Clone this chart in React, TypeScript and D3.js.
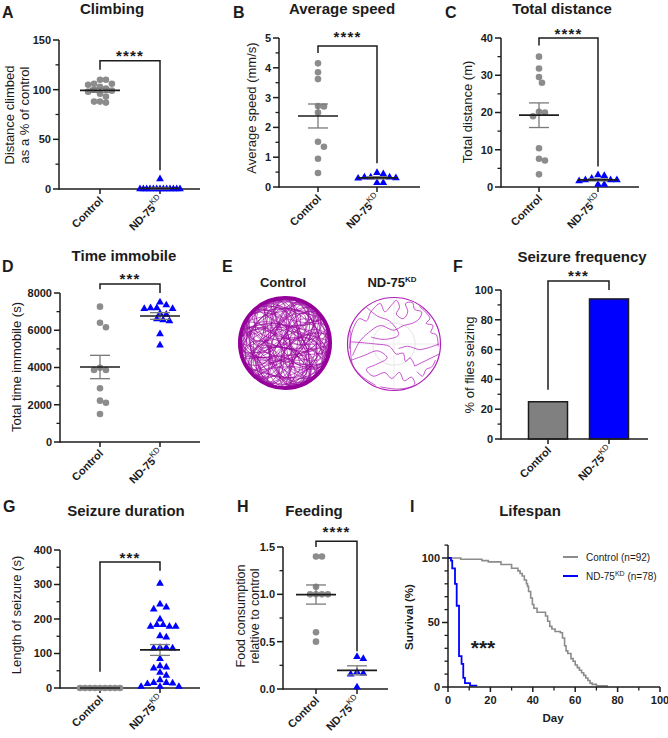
import React from "react";
import * as d3 from "d3";

const FONT = "'Liberation Sans', Arial, Helvetica, sans-serif";
const INK = "#1c1c1c";
const DOT = "#8c8c8c";
const BLUE = "#0000ff";
const SEMC = "#7a7a7a";

const catNames = ["Control", "ND-75"];
const catSup = ["", "KD"];

// A – climbing
const climbControl = [106, 106, 110, 110, 105, 103, 100, 99, 101, 98, 96, 93, 87, 88, 88];
const climbND = [0, 0, 0, 0, 0, 0, 0, 0, 0, 0, 0, 0, 0, 10];
const climbTicks = [0, 50, 100, 150];
const climbBracket = [129, 120, 19];

// B – average speed
const speedControl = [4.15, 3.85, 3.62, 2.72, 2.7, 2.5, 1.52, 1.35, 0.95, 0.47];
const speedND = [0.29, 0.14, 0.48, 0.33, 0.33, 0.14, 0.44, 0.33, 0.3];
const speedTicks = [0, 1, 2, 3, 4, 5];
const speedBracket = [4.73, 4.5, 0.8];

// C – total distance
const distControl = [35, 31.8, 29.5, 28, 20.2, 20, 19, 10.4, 7.6, 7.1, 3.4];
const distND = [3.2, 1.9, 3.0, 1.6, 1.9, 0.7, 1.9, 2.3, 0.7];
const distTicks = [0, 10, 20, 30, 40];
const distBracket = [40, 38, 5.5];

// D – time immobile
const immobControl = [7266, 6158, 6406, 3866, 3866, 3990, 2883, 2111, 2219, 1503];
const immobND = [7500, 7150, 7200, 7350, 7200, 7150, 6900, 6850, 6600, 6500, 6550, 5800, 5200];
const immobTicks = [0, 2000, 4000, 6000, 8000];
const immobBracket = [8480, 8200, 8000];

// F – seizure frequency
const seizureFreq = [25, 94];
const freqTicks = [0, 20, 40, 60, 80, 100];
const freqBracket = [106, 33, 100];

// G – seizure duration
const durControl = [0, 0, 0, 0, 0, 0, 0, 0, 0];
const durND = [303, 243, 234, 228, 199, 183, 183, 178, 178, 178, 147, 151, 115, 117, 117, 115, 85, 60, 64, 57, 36, 45, 15, 12, 14, 15, 23, 4, 4, 4];
const durTicks = [0, 100, 200, 300, 400];
const durBracket = [365, 47, 340];

// H – feeding
const feedControl = [1.4, 1.4, 1.08, 1.0, 1.0, 1.0, 1.0, 0.6, 0.5];
const feedND = [0.34, 0.32, 0.18, 0.155, 0.165, 0.02];
const feedTicks = [0, 0.5, 1.0, 1.5];
const feedBracket = [1.56, 1.5, 0.4];

// I – lifespan (day, survival %)
const lifeControl: [number, number][] = [
  [0, 100], [6, 99], [16, 98], [19, 97], [25, 95], [30, 92], [33, 90], [34, 88], [35, 86], [36, 83],
  [37, 80], [37.5, 78], [38, 74], [39, 69], [39.8, 64], [40.5, 61], [42, 58], [46, 55], [47, 51],
  [48, 47], [49, 45], [50.5, 43], [53, 42], [54, 38], [55, 32], [55.7, 28], [56.5, 26], [58, 22],
  [59, 20], [60, 17], [61, 15], [62, 13], [63, 11], [64, 9], [65, 7], [66, 5], [67, 3], [68, 2],
  [70, 1], [75, 0],
];
const lifeND: [number, number][] = [
  [0, 100], [1.4, 98], [2, 92], [3.3, 80], [4.1, 63], [5.2, 24], [6.4, 18], [7.2, 7], [8, 3], [10.4, 1], [13.8, 1],
];
const lifeXTicks = [0, 20, 40, 60, 80, 100];
const lifeYTicks = [0, 50, 100];
const lifeLegend = ["Control (n=92)", "(n=78)"];

// E – tracking trajectories (unit-circle coordinates)
const controlTrack: [number, number][] = [
  [-0.96, 0.15], [-0.5, 0.4], [0.05, 0.1], [0.6, -0.3], [0.97, -0.15], [0.8, 0.5], [0.35, 0.92], [-0.2, 0.7],
  [-0.35, 0.2], [-0.1, -0.4], [0.25, -0.95], [-0.45, -0.88], [-0.85, -0.45], [-0.6, 0.05], [-0.15, 0.35],
  [0.4, 0.6], [0.92, 0.35], [0.7, -0.1], [0.2, -0.25], [-0.3, -0.65], [-0.75, -0.62], [-0.98, -0.05],
  [-0.75, 0.62], [-0.25, 0.96], [0.15, 0.55], [0.1, 0.0], [0.3, -0.55], [0.65, -0.75], [0.95, -0.3],
  [0.55, 0.15], [0.0, 0.45], [-0.55, 0.8], [-0.9, 0.4], [-0.4, -0.1], [0.15, -0.75], [0.05, -0.99],
  [-0.3, -0.85], [-0.05, -0.1], [0.45, 0.35], [0.7, 0.7], [0.2, 0.97], [-0.4, 0.6], [-0.7, 0.2],
  [-0.95, -0.3], [-0.55, -0.75], [0.0, -0.55], [0.5, -0.45], [0.88, -0.5], [0.98, 0.1], [0.6, 0.5],
  [0.0, 0.8], [-0.6, 0.45], [-0.2, -0.2], [0.35, 0.05], [0.8, -0.2], [0.5, -0.85],
];
const controlTurns = [0, 41, 97, 163, 212, 277];
const controlMirrorTurns = [23, 139, 250];
const ndTracks: [number, number][][] = [
  [[-0.97, 0.1], [-0.9, -0.3], [-0.75, -0.55], [-0.6, -0.5], [-0.5, -0.7], [-0.3, -0.88], [-0.2, -0.7],
   [-0.05, -0.85], [0.05, -0.95], [0.12, -0.8], [0.05, -0.65], [0.2, -0.55], [0.3, -0.7], [0.25, -0.88],
   [0.4, -0.9], [0.45, -0.75], [0.6, -0.7], [0.55, -0.55], [0.4, -0.45], [0.2, -0.4], [0.0, -0.3],
   [-0.3, -0.4], [-0.55, -0.25], [-0.75, -0.05], [-0.9, 0.25]],
  [[0.55, -0.82], [0.7, -0.68], [0.78, -0.55], [0.7, -0.45], [0.85, -0.4], [0.8, -0.25], [0.92, -0.2], [0.96, 0.05]],
  [[-0.92, 0.35], [-0.65, 0.25], [-0.35, 0.15], [-0.15, 0.3], [-0.4, 0.45], [-0.6, 0.55], [-0.45, 0.7],
   [-0.2, 0.62], [-0.05, 0.75], [0.12, 0.62], [0.22, 0.8], [0.38, 0.72], [0.45, 0.88], [0.3, 0.95],
   [0.05, 0.98], [-0.3, 0.93]],
  [[0.45, 0.48], [0.35, 0.3], [0.25, 0.38], [0.2, 0.2], [0.05, 0.22], [-0.1, 0.05], [-0.4, 0.0], [-0.96, -0.05]],
  [[-0.95, -0.3], [-0.9, 0.45], [-0.7, 0.7], [-0.4, 0.9]],
  [[0.1, 0.1], [0.3, 0.05], [0.55, 0.12], [0.75, 0.08], [0.98, 0.0]],
  [[0.5, 0.6], [0.62, 0.7], [0.7, 0.55], [0.82, 0.5], [0.9, 0.35]],
  [[-0.6, -0.8], [-0.35, -0.6], [-0.1, -0.5], [0.1, -0.2], [-0.2, -0.1], [-0.5, -0.15]],
];
const ndStraight: [number, number][] = [[0.98, 0.22], [0.45, 0.48]];

function swarm(values: number[], y: (v: number) => number, cx: number, r: number, maxHalf: number) {
  const idx = values.map((_, i) => i).sort((a, b) => values[b] - values[a]);
  const placed: { x: number; y: number }[] = new Array(values.length);
  const list: { x: number; y: number }[] = [];
  const step = r * 0.9;
  const minD2 = (2 * r) * (2 * r) * 0.8;
  for (const i of idx) {
    const py = y(values[i]);
    for (let t = 0; t < 400; t++) {
      const off = t === 0 ? 0 : (t % 2 === 1 ? 1 : -1) * Math.ceil(t / 2) * step;
      if (list.every((p) => (p.x - off) ** 2 + (p.y - py) ** 2 >= minD2)) {
        placed[i] = { x: off, y: py };
        list.push(placed[i]);
        break;
      }
    }
  }
  const maxOff = d3.max(list, (p) => Math.abs(p.x)) || 0;
  const k = maxOff > maxHalf ? maxHalf / maxOff : 1;
  return placed.map((p) => ({ x: cx + p.x * k, y: p.y }));
}

function YAxis({ x, y, ticks, minorStep, dec, top }: any) {
  const d0 = y.domain()[0];
  const d1 = top ?? y.domain()[1];
  const minor = d3.range(d0, d1 + 1e-9, minorStep).filter((v: number) => !ticks.some((t: number) => Math.abs(t - v) < 1e-9));
  const f = d3.format(dec ? ".1f" : "d");
  return (
    <g>
      <line x1={x} x2={x} y1={y(d0) + 0.75} y2={y(d1)} stroke={INK} strokeWidth={1.5} />
      {minor.map((v: number) => (
        <line key={"m" + v} x1={x - 3.5} x2={x} y1={y(v)} y2={y(v)} stroke={INK} strokeWidth={1.3} />
      ))}
      {ticks.map((v: number) => (
        <g key={v}>
          <line x1={x - 6} x2={x} y1={y(v)} y2={y(v)} stroke={INK} strokeWidth={1.5} />
          <text x={x - 8} y={y(v)} dy="0.36em" textAnchor="end" fontSize={11} fontWeight="bold" fill={INK}>
            {f(v)}
          </text>
        </g>
      ))}
    </g>
  );
}

function CatAxis({ xs, y0, x0, x1 }: any) {
  return (
    <g>
      <line x1={x0} x2={x1} y1={y0} y2={y0} stroke={INK} strokeWidth={1.5} />
      {catNames.map((c, i) => {
        const cx = xs(c);
        return (
          <g key={c}>
            <line x1={cx} x2={cx} y1={y0} y2={y0 + 5} stroke={INK} strokeWidth={1.5} />
            <text transform={`translate(${cx + 4},${y0 + 12}) rotate(-45)`} textAnchor="end" fontSize={11} fontWeight="bold" fill={INK}>
              {c}
              {catSup[i] ? (
                <tspan fontSize={8} fontWeight="normal" dy={-5}>{catSup[i]}</tspan>
              ) : null}
            </text>
          </g>
        );
      })}
    </g>
  );
}

function Stars({ x, cy, n, size = 15 }: any) {
  return (
    <text x={x} y={cy + size * 0.57} textAnchor="middle" fontSize={size} fontWeight="bold" fill={INK} letterSpacing={1.2}>
      {"*".repeat(n)}
    </text>
  );
}

function YLabel({ lines, xs, cy, size = 13, bold = false }: any) {
  return (
    <g>
      {lines.map((l: string, i: number) => (
        <text key={i} transform={`translate(${xs[i]},${cy}) rotate(-90)`} textAnchor="middle" fontSize={size} fontWeight={bold ? "bold" : "normal"} fill={INK}>
          {l}
        </text>
      ))}
    </g>
  );
}

function Heading({ letter, lx, ly, title, tx, ty }: any) {
  return (
    <g>
      <text x={lx} y={ly} fontSize={16} fontWeight="bold" fill={INK}>{letter}</text>
      <text x={tx} y={ty} fontSize={15} fontWeight="bold" textAnchor="middle" fill={INK}>{title}</text>
    </g>
  );
}

const triPath = d3.symbol(d3.symbolTriangle, 26)() as string;

function MeanSem({ vals, cx, y }: any) {
  const m = d3.mean(vals) as number;
  const s = vals.length > 1 ? (d3.deviation(vals) as number) / Math.sqrt(vals.length) : 0;
  return (
    <g>
      <line x1={cx} x2={cx} y1={y(m - s)} y2={y(m + s)} stroke={SEMC} strokeWidth={1.3} />
      <line x1={cx - 10} x2={cx + 10} y1={y(m - s)} y2={y(m - s)} stroke={SEMC} strokeWidth={1.3} />
      <line x1={cx - 10} x2={cx + 10} y1={y(m + s)} y2={y(m + s)} stroke={SEMC} strokeWidth={1.3} />
      <line x1={cx - 20} x2={cx + 20} y1={y(m)} y2={y(m)} stroke={INK} strokeWidth={1.7} />
    </g>
  );
}

function DotPanel(p: any) {
  const y = d3.scaleLinear().domain([0, p.ymax]).range(p.yRange);
  const xs = d3.scalePoint<string>().domain(catNames).range(p.cx);
  const c0 = xs(catNames[0]) as number;
  const c1 = xs(catNames[1]) as number;
  const ctrl = swarm(p.ctrl, y, c0, 3.3, 20);
  const nd = swarm(p.nd, y, c1, 3.5, 20);
  const b = p.bracket;
  return (
    <g>
      <Heading {...p.head} />
      <YLabel {...p.ylabel} />
      <YAxis x={p.axisX} y={y} ticks={p.ticks} minorStep={p.minorStep} dec={p.dec} />
      <CatAxis xs={xs} y0={p.yRange[0]} x0={p.axisX} x1={p.axisRight} />
      {ctrl.map((d, i) => (
        <circle key={"c" + i} cx={d.x} cy={d.y} r={3.3} fill={DOT} />
      ))}
      {nd.map((d, i) => (
        <path key={"n" + i} d={triPath} transform={`translate(${d.x},${d.y})`} fill={BLUE} />
      ))}
      <MeanSem vals={p.ctrl} cx={c0} y={y} />
      <MeanSem vals={p.nd} cx={c1} y={y} />
      <path d={`M${c0},${y(b[1])}V${y(b[0])}H${c1}V${y(b[2])}`} fill="none" stroke={INK} strokeWidth={1.5} />
      <Stars x={(c0 + c1) / 2} cy={p.starsY} n={p.stars} />
    </g>
  );
}

function BarPanel() {
  const y = d3.scaleLinear().domain([0, 100]).range([439, 290]);
  const xs = d3.scalePoint<string>().domain(catNames).range([548, 609]);
  const c0 = xs(catNames[0]) as number;
  const c1 = xs(catNames[1]) as number;
  const colors = ["#808080", BLUE];
  const b = freqBracket;
  return (
    <g>
      <Heading letter="F" lx={453} ly={272} title="Seizure frequency" tx={582} ty={262} />
      <YLabel lines={["% of flies seizing"]} xs={[474]} cy={365} />
      {catNames.map((c, i) => (
        <rect key={c} x={(xs(c) as number) - 19.5} width={39} y={y(seizureFreq[i])} height={y(0) - y(seizureFreq[i])} fill={colors[i]} stroke={INK} strokeWidth={1.5} />
      ))}
      <YAxis x={501} y={y} ticks={freqTicks} minorStep={10} />
      <CatAxis xs={xs} y0={439} x0={501} x1={648} />
      <path d={`M${c0},${y(b[1])}V${y(b[0])}H${c1}V${y(b[2])}`} fill="none" stroke={INK} strokeWidth={1.5} />
      <Stars x={(c0 + c1) / 2} cy={272} n={3} />
    </g>
  );
}

function TrackPanel() {
  const r = 47;
  const cC = [285, 343];
  const cN = [394, 344];
  const curve = d3.line().curve(d3.curveCatmullRom.alpha(0.5));
  const lin = d3.line();
  const ctrlPts = controlTrack.map(([a, b]) => [a * (r - 2), b * (r - 2)] as [number, number]);
  const copies = [
    ...controlTurns.map((a) => `rotate(${a})`),
    ...controlMirrorTurns.map((a) => `scale(-1,1) rotate(${a})`),
  ];
  const sc = (t: [number, number][]) => t.map(([a, b]) => [a * (r - 1), b * (r - 1)] as [number, number]);
  return (
    <g>
      <text x={222} y={272} fontSize={16} fontWeight="bold" fill={INK}>E</text>
      <text x={283} y={287} fontSize={13} fontWeight="bold" textAnchor="middle" fill={INK}>Control</text>
      <text x={392} y={287} fontSize={13} fontWeight="bold" textAnchor="middle" fill={INK}>
        ND-75<tspan fontSize={8} dy={-5}>KD</tspan>
      </text>
      <defs>
        <clipPath id="clipC"><circle cx={0} cy={0} r={r} /></clipPath>
        <clipPath id="clipN"><circle cx={0} cy={0} r={r} /></clipPath>
      </defs>
      <g transform={`translate(${cC[0]},${cC[1]})`}>
        <g clipPath="url(#clipC)">
          {copies.map((t, i) => (
            <path key={i} d={curve(ctrlPts) as string} transform={t} fill="none" stroke="#9a0a9f" strokeWidth={0.65} opacity={0.9} />
          ))}
        </g>
        <circle r={r - 1.8} fill="none" stroke="#95009a" strokeWidth={3.6} />
        <circle r={r - 5.5} fill="none" stroke="#a020a8" strokeWidth={1.5} opacity={0.6} />
      </g>
      <g transform={`translate(${cN[0]},${cN[1]})`}>
        <circle r={r * 0.45} fill="none" stroke="#e4e4e4" strokeWidth={1} />
        <line x1={-r} x2={r} y1={0} y2={0} stroke="#ececec" strokeWidth={1} />
        <line x1={0} x2={0} y1={-r} y2={r} stroke="#ececec" strokeWidth={1} />
        <g clipPath="url(#clipN)">
          {ndTracks.map((t, i) => (
            <path key={i} d={curve(sc(t)) as string} fill="none" stroke="#b828c0" strokeWidth={0.8} />
          ))}
          <path d={lin(sc(ndStraight)) as string} fill="none" stroke="#b828c0" strokeWidth={0.8} />
        </g>
        <circle r={r - 0.5} fill="none" stroke="#b020b8" strokeWidth={1.2} />
      </g>
    </g>
  );
}

function LifePanel() {
  const x = d3.scaleLinear().domain([0, 100]).range([448, 660]);
  const y = d3.scaleLinear().domain([0, 100]).range([687, 558]);
  const line = d3.line<[number, number]>().x((d) => x(d[0])).y((d) => y(d[1])).curve(d3.curveStepAfter);
  const xMinor = d3.range(10, 100, 20);
  return (
    <g>
      <Heading letter="I" lx={410} ly={512} title="Lifespan" tx={530} ty={516} />
      <YLabel lines={["Survival (%)"]} xs={[413]} cy={617} size={11.5} bold />
      <path d={line(lifeControl) as string} fill="none" stroke="#8c8c8c" strokeWidth={1.6} />
      <path d={line(lifeND) as string} fill="none" stroke={BLUE} strokeWidth={1.8} />
      <YAxis x={448} y={y} ticks={lifeYTicks} minorStep={10} top={110} />
      <line x1={448} x2={660} y1={687} y2={687} stroke={INK} strokeWidth={1.5} />
      {xMinor.map((v) => (
        <line key={"xm" + v} x1={x(v)} x2={x(v)} y1={687} y2={690.5} stroke={INK} strokeWidth={1.3} />
      ))}
      {lifeXTicks.map((v) => (
        <g key={"xt" + v}>
          <line x1={x(v)} x2={x(v)} y1={687} y2={692} stroke={INK} strokeWidth={1.5} />
          <text x={x(v)} y={704} textAnchor="middle" fontSize={11} fontWeight="bold" fill={INK}>{v}</text>
        </g>
      ))}
      <text x={553} y={722} textAnchor="middle" fontSize={11.5} fontWeight="bold" fill={INK}>Day</text>
      <line x1={563} x2={578} y1={557} y2={557} stroke="#8c8c8c" strokeWidth={2} />
      <text x={586} y={560.5} fontSize={10} fill={INK}>{lifeLegend[0]}</text>
      <line x1={563} x2={578} y1={576} y2={576} stroke={BLUE} strokeWidth={2} />
      <text x={586} y={579.5} fontSize={10} fill={INK}>
        ND-75<tspan fontSize={7} dy={-4}>KD</tspan><tspan dy={4}> {lifeLegend[1]}</tspan>
      </text>
      <text x={483} y={655} textAnchor="middle" fontSize={21} fontWeight="bold" fill={INK}>***</text>
    </g>
  );
}

export default function App() {
  return (
    <svg width={668} height={738} style={{ position: "absolute", left: 0, top: 0, background: "#fff" }} fontFamily={FONT}>
      <rect width={668} height={738} fill="#fff" />
      <DotPanel
        head={{ letter: "A", lx: 2, ly: 18, title: "Climbing", tx: 112, ty: 14 }}
        ylabel={{ lines: ["Distance climbed", "as a % of control"], xs: [14, 29], cy: 115 }}
        ymax={150} yRange={[189, 40]} ticks={climbTicks} minorStep={25}
        axisX={59} axisRight={200} cx={[100, 160]}
        ctrl={climbControl} nd={climbND} bracket={climbBracket} starsY={52} stars={4}
      />
      <DotPanel
        head={{ letter: "B", lx: 233, ly: 18, title: "Average speed", tx: 342, ty: 14 }}
        ylabel={{ lines: ["Average speed (mm/s)"], xs: [256], cy: 108 }}
        ymax={5} yRange={[187, 38]} ticks={speedTicks} minorStep={0.5}
        axisX={279} axisRight={420} cx={[318, 377]}
        ctrl={speedControl} nd={speedND} bracket={speedBracket} starsY={33} stars={4}
      />
      <DotPanel
        head={{ letter: "C", lx: 445, ly: 18, title: "Total distance", tx: 562, ty: 14 }}
        ylabel={{ lines: ["Total distance (m)"], xs: [472], cy: 112 }}
        ymax={40} yRange={[187, 38]} ticks={distTicks} minorStep={5}
        axisX={501} axisRight={639} cx={[539, 598]}
        ctrl={distControl} nd={distND} bracket={distBracket} starsY={30} stars={4}
      />
      <DotPanel
        head={{ letter: "D", lx: 2, ly: 272, title: "Time immobile", tx: 124, ty: 261 }}
        ylabel={{ lines: ["Total time immobile (s)"], xs: [21], cy: 367 }}
        ymax={8000} yRange={[442, 293]} ticks={immobTicks} minorStep={1000}
        axisX={60} axisRight={200} cx={[100, 160]}
        ctrl={immobControl} nd={immobND} bracket={immobBracket} starsY={275} stars={3}
      />
      <TrackPanel />
      <BarPanel />
      <DotPanel
        head={{ letter: "G", lx: 3, ly: 512, title: "Seizure duration", tx: 126, ty: 516 }}
        ylabel={{ lines: ["Length of seizure (s)"], xs: [21], cy: 615 }}
        ymax={400} yRange={[688, 550]} ticks={durTicks} minorStep={50}
        axisX={60} axisRight={200} cx={[100, 160]}
        ctrl={durControl} nd={durND} bracket={durBracket} starsY={554} stars={3}
      />
      <DotPanel
        head={{ letter: "H", lx: 237, ly: 512, title: "Feeding", tx: 314, ty: 516 }}
        ylabel={{ lines: ["Food consumption", "relative to control"], xs: [245, 259], cy: 616, size: 12.5 }}
        ymax={1.5} yRange={[689, 547]} ticks={feedTicks} minorStep={0.25} dec
        axisX={283} axisRight={388} cx={[316, 357]}
        ctrl={feedControl} nd={feedND} bracket={feedBracket} starsY={528} stars={4}
      />
      <LifePanel />
    </svg>
  );
}
